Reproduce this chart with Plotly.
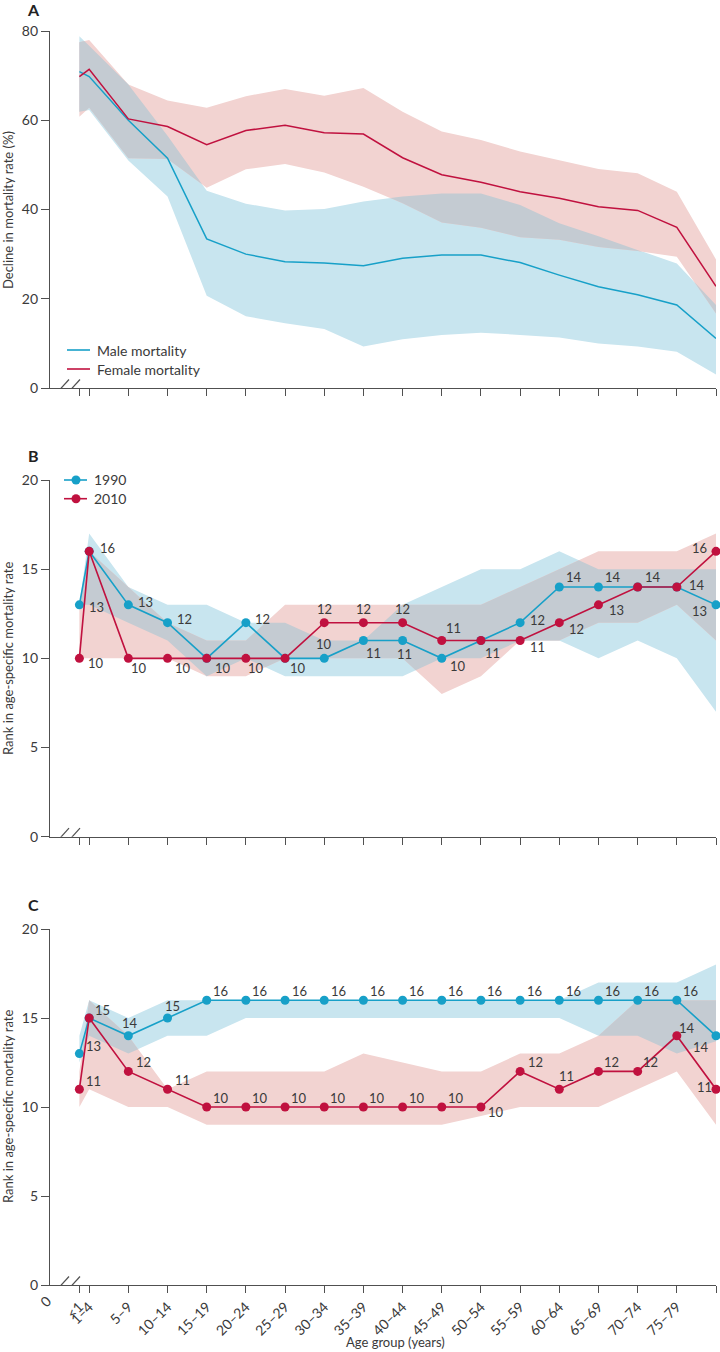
import numpy as np
import plotly.graph_objects as go

# ---------------- data ----------------
age_groups = ['<1', '1–4', '5–9', '10–14', '15–19', '20–24', '25–29', '30–34', '35–39',
              '40–44', '45–49', '50–54', '55–59', '60–64', '65–69', '70–74', '75–79', '≥80']
age_pos = [0.75] + list(range(1, 18))   # axis position of each age group (<1 squeezed next to 1–4)

# Panel A: decline in mortality rate (%)
male_decline = [70.9, 69.8, 60.0, 51.5, 33.4, 30.0, 28.3, 28.0, 27.4, 29.1, 29.8, 29.8, 28.1, 25.3, 22.7, 20.9, 18.6, 11.1]
male_upper = [78.8, 76.7, 68.0, 56.5, 44.2, 41.3, 39.8, 40.1, 41.8, 42.9, 43.6, 43.6, 41.0, 36.9, 34.0, 30.9, 27.9, 18.6]
male_lower = [61.9, 62.3, 51.0, 42.9, 20.7, 16.1, 14.5, 13.2, 9.3, 10.9, 11.9, 12.4, 11.9, 11.3, 10.0, 9.3, 8.1, 3.0]
female_decline = [69.8, 71.4, 60.3, 58.6, 54.5, 57.7, 58.9, 57.2, 56.9, 51.6, 47.8, 46.1, 44.0, 42.5, 40.6, 39.8, 36.0, 22.8]
female_upper = [77.5, 78.0, 68.0, 64.4, 62.8, 65.4, 67.0, 65.5, 67.2, 61.9, 57.5, 55.6, 53.0, 51.0, 49.1, 48.1, 44.0, 28.8]
female_lower = [60.8, 62.8, 51.5, 51.3, 44.9, 49.0, 50.2, 48.3, 45.1, 41.4, 37.1, 35.9, 33.8, 33.2, 31.6, 30.7, 29.4, 16.7]

# Panel B: rank (1990 / 2010)
b_rank_1990 = [13, 16, 13, 12, 10, 12, 10, 10, 11, 11, 10, 11, 12, 14, 14, 14, 14, 13]
b_up_1990 = [13, 17, 14, 13, 13, 12, 12, 11, 11, 13, 14, 15, 15, 16, 15, 15, 15, 15]
b_lo_1990 = [13, 13, 12, 11, 9, 10, 9, 9, 9, 9, 10, 10, 11, 11, 10, 11, 10, 7]
b_rank_2010 = [10, 16, 10, 10, 10, 10, 10, 12, 12, 12, 11, 11, 11, 12, 13, 14, 14, 16]
b_up_2010 = [13, 16, 14, 12, 11, 11, 13, 13, 13, 13, 13, 13, 14, 15, 16, 16, 16, 17]
b_lo_2010 = [10, 10, 10, 10, 9, 9, 10, 10, 10, 10, 8, 9, 11, 11, 12, 12, 13, 11]

# Panel C: rank (1990 / 2010)
c_rank_1990 = [13, 15, 14, 15, 16, 16, 16, 16, 16, 16, 16, 16, 16, 16, 16, 16, 16, 14]
c_up_1990 = [14, 16, 15, 16, 16, 16, 16, 16, 16, 16, 16, 16, 16, 16, 17, 17, 17, 18]
c_lo_1990 = [12.5, 14, 13, 14, 14, 15, 15, 15, 15, 15, 15, 15, 15, 15, 14, 14, 13, 13.7]
c_rank_2010 = [11, 15, 12, 11, 10, 10, 10, 10, 10, 10, 10, 10, 12, 11, 12, 12, 14, 11]
c_up_2010 = [12, 16, 14, 11, 12, 12, 12, 12, 13, 12.5, 12, 12, 13, 13, 14, 16, 16, 16]
c_lo_2010 = [10, 11, 10, 10, 9, 9, 9, 9, 9, 9, 9, 9.5, 10, 10, 10, 11, 12, 9]

# ---------------- styles ----------------
FONT = 'Lato'
TXT = '#3a3a3a'
AX = '#505050'
BLUE = '#17a0c8'
RED = '#c0113f'
BAND_BLUE = '#c8e5ef'
BAND_PINK = '#f2d3d1'
BAND_GREY = '#c4cbd2'

# label offsets (pixels) for each point label; None = label not drawn (shared value)
b_off_1990 = [(17, -2), (18, 3), (17, 3), (17, 4), None, (17, 4), None, (0, 14), (10, -12), (2, -13),
              (16, -8), (12, -12), (17, 3), (15, 10), (15, 10), (15, 10), (20, 2), (-17, -6)]
b_off_2010 = [(17, -5), None, (11, -10), (15, -10), (16, -10), (10, -10), (13, -10), (0, 14), (0, 14), (0, 14),
              (12, 13), None, (17, -6), (17, -6), (18, -5), None, None, (-17, 3)]
c_off_1990 = [(14, 8), (13, 8), (2, 13), (5, 12)] + [(14, 9)] * 13 + [(-15, -11)]
c_off_2010 = [(14, 8), None, (15, 9), (15, 9), (14, 9), (14, 9), (14, 9), (14, 9), (14, 9), (14, 9), (14, 9),
              (15, -5), (15, 9), (7, 13), (13, 9), (13, 9), (10, 8), (-12, 2)]

W, H = 720, 1352
ML, MR, MT, MB = 50, 4, 31, 67
PW = W - ML - MR           # plot area: x 50 .. 716
PH = H - MT - MB           # plot area: y 31 .. 1285


def px2x(px):
    return (px - ML) / PW


def py2y(py):
    return (H - MB - py) / PH


fig = go.Figure()


def band(xa, ya, lo, up, color):
    xs = list(age_pos)
    fig.add_trace(go.Scatter(x=xs + xs[::-1], y=list(up) + list(lo)[::-1], mode='lines',
                             fill='toself', fillcolor=color, line=dict(width=0),
                             hoverinfo='skip', showlegend=False, xaxis=xa, yaxis=ya))


def overlap(xa, ya, l1, u1, l2, u2, color):
    xs = np.array(age_pos, float)
    l1, u1, l2, u2 = (np.array(v, float) for v in (l1, u1, l2, u2))
    X, LO, HI = [], [], []
    for i in range(len(xs) - 1):
        ts = {0.0}
        for a, b in ((l1, l2), (u1, u2), (u1, l2), (u2, l1)):
            d0, d1 = a[i] - b[i], a[i + 1] - b[i + 1]
            if d0 * d1 < 0:
                ts.add(d0 / (d0 - d1))
        for t in sorted(ts):
            f = lambda arr: arr[i] + t * (arr[i + 1] - arr[i])
            X.append(xs[i] + t * (xs[i + 1] - xs[i]))
            LO.append(max(f(l1), f(l2)))
            HI.append(min(f(u1), f(u2)))
    X.append(xs[-1]); LO.append(max(l1[-1], l2[-1])); HI.append(min(u1[-1], u2[-1]))
    HI = list(np.maximum(HI, LO))
    fig.add_trace(go.Scatter(x=X + X[::-1], y=HI + LO[::-1], mode='lines', fill='toself',
                             fillcolor=color, line=dict(width=0), hoverinfo='skip',
                             showlegend=False, xaxis=xa, yaxis=ya))


# ---- Panel A ----
band('x', 'y', male_lower, male_upper, BAND_BLUE)
band('x', 'y', female_lower, female_upper, BAND_PINK)
overlap('x', 'y', male_lower, male_upper, female_lower, female_upper, BAND_GREY)
fig.add_trace(go.Scatter(x=age_pos, y=male_decline, mode='lines', name='Male mortality',
                         line=dict(color=BLUE, width=1.5), showlegend=False, xaxis='x', yaxis='y'))
fig.add_trace(go.Scatter(x=age_pos, y=female_decline, mode='lines', name='Female mortality',
                         line=dict(color=RED, width=1.5), showlegend=False, xaxis='x', yaxis='y'))

annotations = []


def rank_panel(xa, ya, r90, lo90, up90, r10, lo10, up10, off90, off10):
    band(xa, ya, lo90, up90, BAND_BLUE)
    band(xa, ya, lo10, up10, BAND_PINK)
    overlap(xa, ya, lo90, up90, lo10, up10, BAND_GREY)
    fig.add_trace(go.Scatter(x=age_pos, y=r90, mode='lines+markers', name='1990',
                             line=dict(color=BLUE, width=1.6), marker=dict(color=BLUE, size=9),
                             cliponaxis=False, showlegend=False, xaxis=xa, yaxis=ya))
    fig.add_trace(go.Scatter(x=age_pos, y=r10, mode='lines+markers', name='2010',
                             line=dict(color=RED, width=1.6), marker=dict(color=RED, size=9),
                             cliponaxis=False, showlegend=False, xaxis=xa, yaxis=ya))
    for vals, offs in ((r90, off90), (r10, off10)):
        for xv, v, o in zip(age_pos, vals, offs):
            if o is None:
                continue
            annotations.append(dict(x=xv, y=v, xref=xa, yref=ya, text=str(v), showarrow=False,
                                    xshift=o[0], yshift=o[1], xanchor='center', yanchor='middle',
                                    font=dict(family=FONT, size=13, color=TXT)))


rank_panel('x2', 'y2', b_rank_1990, b_lo_1990, b_up_1990, b_rank_2010, b_lo_2010, b_up_2010,
           b_off_1990, b_off_2010)
rank_panel('x3', 'y3', c_rank_1990, c_lo_1990, c_up_1990, c_rank_2010, c_lo_2010, c_up_2010,
           c_off_1990, c_off_2010)

# ---- axes ----
xcommon = dict(range=[0, 17], showgrid=False, zeroline=False, showline=True, linecolor=AX,
               linewidth=1.3, ticks='outside', ticklen=7, tickwidth=1.2, tickcolor=AX,
               tickvals=age_pos, ticktext=age_groups, domain=[0, 1], automargin=False)
ycommon = dict(showgrid=False, zeroline=False, showline=True, linecolor=AX, linewidth=1.3,
               ticks='outside', ticklen=8, tickwidth=1.2, tickcolor=AX, automargin=False,
               tickfont=dict(family=FONT, size=14, color=TXT))

fig.update_layout(
    width=W, height=H, margin=dict(l=ML, r=MR, t=MT, b=MB),
    paper_bgcolor='white', plot_bgcolor='white', showlegend=False,
    xaxis=dict(**xcommon, anchor='y', showticklabels=False),
    xaxis2=dict(**xcommon, anchor='y2', showticklabels=False),
    xaxis3=dict(**xcommon, anchor='y3', showticklabels=True, tickangle=-45,
                tickfont=dict(family=FONT, size=14, color=TXT)),
    yaxis=dict(**ycommon, anchor='x', range=[0, 80], tickvals=[0, 20, 40, 60, 80],
               domain=[py2y(388), py2y(31)]),
    yaxis2=dict(**ycommon, anchor='x2', range=[0, 20], tickvals=[0, 5, 10, 15, 20],
                domain=[py2y(836.7), py2y(480)]),
    yaxis3=dict(**ycommon, anchor='x3', range=[0, 20], tickvals=[0, 5, 10, 15, 20],
                domain=[py2y(1285), py2y(929)]),
)

shapes = []
# axis break marks
for xa, ya in (('x', 'y'), ('x2', 'y2'), ('x3', 'y3')):
    for x0 in (3.5, 14.5):
        shapes.append(dict(type='line', xref=xa, yref=ya, xsizemode='pixel', ysizemode='pixel',
                           xanchor=0, yanchor=0, x0=x0, x1=x0 + 15.5, y0=-8.5, y1=8.5,
                           line=dict(color=AX, width=1.2)))

# legend panel A
for py, col, label in ((350, BLUE, 'Male mortality'), (369, RED, 'Female mortality')):
    shapes.append(dict(type='line', xref='paper', yref='paper', x0=px2x(67), x1=px2x(90),
                       y0=py2y(py), y1=py2y(py), line=dict(color=col, width=1.6)))
    annotations.append(dict(x=px2x(95), y=py2y(py), xref='paper', yref='paper', text=label,
                            showarrow=False, xanchor='left', yanchor='middle',
                            font=dict(family=FONT, size=14, color=TXT)))

# legend panel B
for py, col, label in ((480, BLUE, '1990'), (498.7, RED, '2010')):
    shapes.append(dict(type='line', xref='paper', yref='paper', x0=px2x(64), x1=px2x(87),
                       y0=py2y(py), y1=py2y(py), line=dict(color=col, width=1.6)))
    shapes.append(dict(type='circle', xref='paper', yref='paper', xsizemode='pixel', ysizemode='pixel',
                       xanchor=px2x(76), yanchor=py2y(py), x0=-4.5, x1=4.5, y0=-4.5, y1=4.5,
                       fillcolor=col, line=dict(width=0)))
    annotations.append(dict(x=px2x(92), y=py2y(py), xref='paper', yref='paper', text=label,
                            showarrow=False, xanchor='left', yanchor='middle',
                            font=dict(family=FONT, size=14, color=TXT)))

# panel letters
for (px, py), letter in (((33, 10), 'A'), ((33, 456), 'B'), ((33.5, 904), 'C')):
    annotations.append(dict(x=px2x(px), y=py2y(py), xref='paper', yref='paper', text='<b>%s</b>' % letter,
                            showarrow=False, xanchor='center', yanchor='middle',
                            font=dict(family=FONT, size=16, color='#222')))

# y-axis titles
for py, title in ((210, 'Decline in mortality rate (%)'), (659, 'Rank in age-specific mortality rate'),
                  (1107, 'Rank in age-specific mortality rate')):
    annotations.append(dict(x=px2x(8), y=py2y(py), xref='paper', yref='paper', text=title,
                            textangle=-90, showarrow=False, xanchor='center', yanchor='middle',
                            font=dict(family=FONT, size=13, color=TXT)))

# "0" origin label under panel C and x-axis title
annotations.append(dict(x=0, y=0, xref='x3', yref='y3', text='0', textangle=-45, showarrow=False,
                        xanchor='center', yanchor='middle', xshift=-5, yshift=-16,
                        font=dict(family=FONT, size=14, color=TXT)))
annotations.append(dict(x=px2x(396), y=py2y(1342), xref='paper', yref='paper', text='Age group (years)',
                        showarrow=False, xanchor='center', yanchor='middle',
                        font=dict(family=FONT, size=13, color=TXT)))

fig.update_layout(shapes=shapes, annotations=annotations)
# remove the default 8px page margin so the 720x1352 figure fills the window exactly
fig.write_html('out.html', config={'displayModeBar': False},
               post_script="document.body.style.margin='0';")
